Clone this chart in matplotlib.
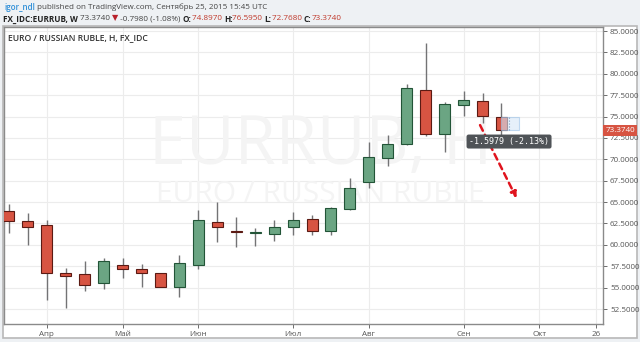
import matplotlib
matplotlib.use("Agg")
import matplotlib.pyplot as plt
from matplotlib.patches import Rectangle
from matplotlib.transforms import blended_transform_factory

# ---------------- data ----------------
opens  = [63.96, 62.79, 62.32, 56.74, 56.56, 55.58, 57.64, 57.18, 56.67, 55.07, 57.61, 62.71, 61.58, 61.35,
          61.23, 62.12, 62.99, 61.65, 64.19, 67.38, 70.12, 71.79, 78.10, 73.00, 76.31, 76.82, 74.897]
closes = [62.82, 62.05, 56.74, 56.32, 55.31, 58.11, 57.21, 56.74, 55.11, 57.84, 62.90, 62.12, 61.52, 61.54,
          62.12, 62.90, 61.65, 64.27, 66.61, 70.23, 71.75, 78.37, 72.92, 76.47, 76.93, 75.10, 73.374]
highs  = [64.74, 63.69, 62.90, 57.26, 58.11, 58.50, 58.50, 57.73, 56.75, 58.81, 64.07, 64.97, 63.22, 62.00,
          62.90, 63.88, 63.49, 64.46, 67.85, 71.99, 72.84, 78.77, 83.63, 76.73, 77.99, 77.79, 76.595]
lows   = [61.35, 59.98, 53.55, 52.58, 54.64, 54.80, 56.09, 55.04, 55.04, 53.87, 57.14, 60.37, 59.78, 59.86,
          60.45, 61.15, 61.15, 61.15, 64.07, 66.61, 69.22, 71.70, 72.73, 70.89, 75.06, 74.21, 72.768]

month_tick_pos = [2, 6, 10, 15, 19, 24, 28, 31]
month_labels = ["Апр", "Май", "Июн", "Июл", "Авг", "Сен", "Окт", "26"]
y_ticks = [52.5, 55.0, 57.5, 60.0, 62.5, 65.0, 67.5, 70.0, 72.5, 75.0, 77.5, 80.0, 82.5, 85.0]

last_price = 73.3740
arrow_start = (24.87, 74.0)
arrow_end = (26.8, 65.45)
measure_text = "-1.5979 (-2.13%)"

# ---------------- style ----------------
UP_FILL, UP_EDGE = "#6ba583", "#225437"
DN_FILL, DN_EDGE = "#d75442", "#5b1a13"
WICK = "#737375"
FONT = ["Open Sans", "DejaVu Sans"]

W, H = 640, 342
fig = plt.figure(figsize=(6.4, 3.42), dpi=100)
fig.patch.set_facecolor("#eef1f4")

def fx(px):
    return px / W

def fy(py):
    return 1 - py / H

# outer chart panel
fig.patches.append(Rectangle((fx(3), fy(338)), fx(637) - fx(3), fy(26) - fy(338),
                             transform=fig.transFigure, facecolor="white",
                             edgecolor="#b8b8b8", lw=1.2, zorder=-5))

ax = fig.add_axes([fx(4), fy(324), fx(603) - fx(4), fy(27) - fy(324)])
ax.set_zorder(1)
ax.set_facecolor("white")
ax.set_xlim(-0.26, 31.36)
ax.set_ylim(50.75, 85.47)

# grid
for t in y_ticks:
    ax.axhline(t, color="#ececec", lw=0.8, zorder=0)
for p in month_tick_pos:
    ax.axvline(p, color="#ececec", lw=0.8, zorder=0)

# watermark
ax.text(0.528, 0.60, "EURRUB, Н", transform=ax.transAxes, ha="center", va="center",
        fontsize=48, color="#f4f4f4", family=FONT, zorder=0.5)
ax.text(0.528, 0.435, "EURO / RUSSIAN RUBLE", transform=ax.transAxes, ha="center", va="center",
        fontsize=21.5, color="#f4f4f4", family=FONT, zorder=0.5)

# candles
xs = list(range(len(opens)))
ax.vlines(xs, lows, highs, color=WICK, lw=1.0, zorder=2)
bodies = [c - o for o, c in zip(opens, closes)]
fills = [UP_FILL if c >= o else DN_FILL for o, c in zip(opens, closes)]
edges = [UP_EDGE if c >= o else DN_EDGE for o, c in zip(opens, closes)]
ax.bar(xs, bodies, bottom=opens, width=0.58, color=fills, edgecolor=edges, lw=0.8, zorder=3)

# measurement box over the last candle
ax.add_patch(Rectangle((25.98, last_price), 0.92, opens[-1] - last_price,
                       facecolor="#d6e7f8", alpha=0.6, edgecolor="#9cc3e8", lw=0.8, zorder=4))
ax.vlines(26.42, last_price, opens[-1], color="#7a9cc0", lw=0.8, linestyles=":", zorder=5)

# dashed arrow
ax.annotate("", xy=arrow_end, xytext=arrow_start,
            arrowprops=dict(arrowstyle="-|>", color="#e0141e", lw=1.8, linestyle=(0, (2.5, 1.8)),
                            mutation_scale=9, shrinkA=0, shrinkB=0), zorder=6)

# measurement tooltip
ax.text(26.4, 72.08, measure_text, ha="center", va="center", fontsize=6,
        family="DejaVu Sans Mono", color="white", zorder=7,
        bbox=dict(boxstyle="round,pad=0.3,rounding_size=0.25", facecolor="#4f5357", edgecolor="none"))

# chart title
ax.text(0.007, 0.965, "EURO / RUSSIAN RUBLE, Н, FX_IDC", transform=ax.transAxes, ha="left", va="center",
        fontsize=6.2, color="#333333", family=FONT, fontweight="semibold", zorder=8)

# axes
ax.yaxis.tick_right()
ax.set_yticks(y_ticks)
ax.set_yticklabels([f"{t:.4f}" for t in y_ticks])
ax.set_xticks(month_tick_pos)
ax.set_xticklabels(month_labels)
ax.tick_params(axis="both", labelsize=5.8, colors="#555555", length=3, width=0.6, pad=2)
for lab in ax.get_xticklabels() + ax.get_yticklabels():
    lab.set_family(FONT)
for s in ax.spines.values():
    s.set_color("#8a8a8a")
    s.set_linewidth(1.0)

# last price label on the axis
trans = blended_transform_factory(ax.transAxes, ax.transData)
ax.text(1.004, last_price, f"{last_price:.4f}", transform=trans, ha="left", va="center",
        fontsize=5.8, color="white", family=FONT, zorder=9, clip_on=False,
        bbox=dict(boxstyle="square,pad=0.25", facecolor="#d75442", edgecolor="none"))

# header
renderer = fig.canvas.get_renderer()

def row(parts, x0, y0, size):
    x = x0
    for txt, col, wt in parts:
        t = fig.text(fx(x), fy(y0), txt, ha="left", va="center", fontsize=size,
                     color=col, family=FONT, fontweight=wt)
        bb = t.get_window_extent(renderer=renderer)
        x += bb.width

row([("igor_ndl", "#2f8fd8", "semibold"),
     (" published on TradingView.com, Сентябрь 25, 2015 15:45 UTC", "#444444", "normal")], 4, 7, 5.8)
row([("FX_IDC:EURRUB, W ", "#222222", "bold"),
     ("73.3740 ", "#444444", "normal"),
     ("▼", "#b8202a", "normal"),
     (" -0.7980 (-1.08%) ", "#444444", "normal"),
     ("O:", "#222222", "bold"), ("74.8970 ", "#c0392b", "normal"),
     ("H:", "#222222", "bold"), ("76.5950 ", "#c0392b", "normal"),
     ("L:", "#222222", "bold"), ("72.7680 ", "#c0392b", "normal"),
     ("C:", "#222222", "bold"), ("73.3740", "#c0392b", "normal")], 3, 19, 5.9)

fig.savefig("out.png", dpi=100, facecolor=fig.get_facecolor())
